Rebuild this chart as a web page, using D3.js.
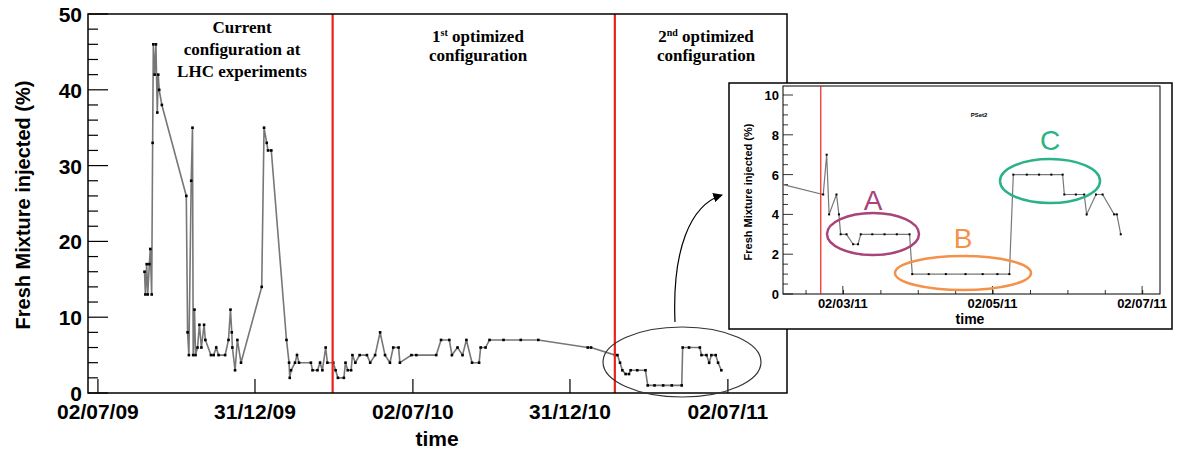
<!DOCTYPE html>
<html><head><meta charset="utf-8">
<script src="https://cdn.jsdelivr.net/npm/d3@7/dist/d3.min.js"></script>
<style>body{margin:0;background:#fff}</style></head>
<body><svg id="c" width="1182" height="452"></svg>
<script>
// Main series: days since 2009-07-02, value (%)
const mainDays = [54,55,56.5,57.7,59.6,60.7,62.3,63.4,64.2,65.7,67.2,68.8,69.9,71,74.1,102.4,103.9,105.4,108.1,109.6,110.4,111.9,113.1,115.4,117.6,119.9,123,124.5,131,134.1,137.1,139.8,147.4,151.3,153.6,155.1,155.8,158.9,161.6,165.8,189.8,192.5,195.6,197.1,200.9,218.5,221.5,222.3,223.8,228.4,230.7,233,246.8,248.7,254.4,257.4,260.1,263.9,265.9,272.7,275.4,278.1,285,286.9,289.5,293.4,294.9,298.3,303.3,311.7,315.5,321.2,327,332.7,338.4,342.2,348.4,349.9,363.3,369,392,397.6,407.2,410.2,416.7,422.5,427,433.5,441.7,443.5,449.2,453.8,470,490,510.3,567.6,571.4,599.3,602,605,607.7,611.5,615.4,617.3,625,634.5,637.1,645,655,665,676.5,677.6,685,697.5,699.4,705.2,708.3,710.9,715.9,718.6,722.4];
const mainVals = [16,13,17,13,17,19,13,33,46,42,46,37,42,40,38,26,8,5,28,35,5,11,5,6,9,6,9,7,5,5,6,5,5,7,11,8,6,3,7,4,14,35,33,32,32,7,4,2,3,4,5,4,4,3,3,4,3,6,4,4,3,2,2,4,3,3,5,4,5,5,4,5,8,5,4,6,6,4,5,5,5,7,7,5,6,5,7,4,4,6,6,7,7,7,7,6,6,5,5,4,3,2.5,2.5,3,3,3,1,1,1,1,1,6,6,6,5,5,4,5,5,4,3];
// Inset series: days since 2011-03-02
const insetDays = [-24.3,-8,-6.6,-5.6,-2.6,-1.6,-0.9,1.5,4.2,6.2,7.3,12,17,22,27.2,28.3,35,42,50,57,63,67.9,69.5,75,80,85,89.6,90.3,95,98.4,99.4,103.2,105.9,110.6,111.7,113.3];
const insetVals = [5.5,5,7,4,5,4,3,3,2.5,2.5,3,3,3,3,3,1,1,1,1,1,1,1,6,6,6,6,6,5,5,5,4,5,5,4,4,3];
const mainTicks = ["2009-07-02","2009-12-31","2010-07-02","2010-12-31","2011-07-02"];
const mainTickLabels = ["02/07/09","31/12/09","02/07/10","31/12/10","02/07/11"];
const insetTicks = ["2011-03-02","2011-05-02","2011-07-02"];
const insetTickLabels = ["02/03/11","02/05/11","02/07/11"];
const phaseChanges = ["2010-03-31","2011-02-21"];

const svg = d3.select("#c");
const P = s => d3.utcParse("%Y-%m-%d")(s);
const addDays = (base, d) => new Date(P(base).getTime() + d*86400000);

// ---------- main plot
const x = d3.scaleUtc().domain([addDays("2009-07-02",-11.5), addDays("2009-07-02",798.5)]).range([88,787]);
const y = d3.scaleLinear().domain([0,50]).range([393,14]);
const g = svg.append("g");
// minor y ticks
g.selectAll(".ym").data(d3.range(0,51,2)).join("line")
  .attr("x1",88).attr("x2",d=>d%10===0?108:98).attr("y1",d=>y(d)).attr("y2",d=>y(d))
  .attr("stroke","#000").attr("stroke-width",1.2);
g.selectAll(".yl").data(d3.range(0,51,10)).join("text")
  .attr("x",82).attr("y",d=>y(d)+8).attr("text-anchor","end")
  .attr("font-family","Liberation Sans, Arial").attr("font-weight","bold").attr("font-size",21).text(d=>d);
g.selectAll(".xt").data(mainTicks).join("line")
  .attr("x1",d=>x(P(d))).attr("x2",d=>x(P(d))).attr("y1",393).attr("y2",379)
  .attr("stroke","#000").attr("stroke-width",1.2);
g.selectAll(".xl").data(mainTickLabels).join("text")
  .attr("x",(d,i)=>x(P(mainTicks[i]))).attr("y",419).attr("text-anchor","middle")
  .attr("font-family","Liberation Sans, Arial").attr("font-weight","bold").attr("font-size",21).text(d=>d);
g.append("text").attr("x",437).attr("y",446).attr("text-anchor","middle")
  .attr("font-family","Liberation Sans, Arial").attr("font-weight","bold").attr("font-size",21).text("time");
g.append("text").attr("transform","translate(30,205) rotate(-90)").attr("text-anchor","middle")
  .attr("font-family","Liberation Sans, Arial").attr("font-weight","bold").attr("font-size",20).text("Fresh Mixture injected (%)");

const mainData = mainDays.map((d,i)=>({t:addDays("2009-07-02",d), v:mainVals[i]}));
g.append("path").datum(mainData).attr("fill","none").attr("stroke","#777").attr("stroke-width",1.6)
  .attr("d", d3.line().x(d=>x(d.t)).y(d=>y(d.v)));
g.selectAll(".pt").data(mainData).join("rect")
  .attr("x",d=>x(d.t)-1.3).attr("y",d=>y(d.v)-1.3).attr("width",2.6).attr("height",2.6).attr("fill","#000");
g.selectAll(".red").data(phaseChanges).join("line")
  .attr("x1",d=>x(P(d))).attr("x2",d=>x(P(d))).attr("y1",14).attr("y2",393)
  .attr("stroke","#e8221b").attr("stroke-width",2.2);
g.append("rect").attr("x",88).attr("y",14).attr("width",699).attr("height",379)
  .attr("fill","none").attr("stroke","#000").attr("stroke-width",1.5);

const serif = "Liberation Serif, Times New Roman";
function label(lines, cx, y0, dy){
  lines.forEach((l,i)=>{
    const t = g.append("text").attr("x",cx).attr("y",y0+i*dy).attr("text-anchor","middle")
      .attr("font-family",serif).attr("font-weight","bold").attr("font-size",17);
    if (Array.isArray(l)) { t.append("tspan").text(l[0]); t.append("tspan").attr("font-size",10).attr("dy",-6).text(l[1]); t.append("tspan").attr("dy",6).text(l[2]); }
    else t.text(l);
  });
}
label(["Current","configuration at","LHC experiments"], 242, 33, 22);
label([["1","st"," optimized"],"configuration"], 478, 42, 19);
label([["2","nd"," optimized"],"configuration"], 706, 42, 19);

// big ellipse + arrow
g.append("ellipse").attr("cx",682).attr("cy",362).attr("rx",79).attr("ry",35).attr("fill","none").attr("stroke","#333").attr("stroke-width",1.2);
svg.append("defs").append("marker").attr("id","ah").attr("viewBox","0 0 10 10").attr("refX",9).attr("refY",5)
  .attr("markerWidth",8).attr("markerHeight",8).attr("orient","auto")
  .append("path").attr("d","M0,0L10,5L0,10z").attr("fill","#000");
g.append("path").attr("d","M675,322 C672,250 690,205 722,195").attr("fill","none").attr("stroke","#000")
  .attr("stroke-width",1.2).attr("marker-end","url(#ah)");

// ---------- inset
const ig = svg.append("g");
ig.append("rect").attr("x",729).attr("y",83).attr("width",443).attr("height",246).attr("fill","#fff").attr("stroke","#000").attr("stroke-width",1.5);
const ix = d3.scaleUtc().domain([addDays("2011-03-02",-24.4), addDays("2011-03-02",129.3)]).range([783,1160]);
const iy = d3.scaleLinear().domain([0,10]).range([294,95]);
ig.append("rect").attr("x",783).attr("y",86).attr("width",377).attr("height",208).attr("fill","none").attr("stroke","#000").attr("stroke-width",1);
ig.selectAll(".iym").data(d3.range(0,10.1,0.5)).join("line")
  .attr("x1",783).attr("x2",(d)=>d%2===0?793:788).attr("y1",d=>iy(d)).attr("y2",d=>iy(d)).attr("stroke","#000").attr("stroke-width",0.8);
ig.selectAll(".iyl").data(d3.range(0,11,2)).join("text")
  .attr("x",779).attr("y",d=>iy(d)+5).attr("text-anchor","end")
  .attr("font-family","Liberation Sans, Arial").attr("font-weight","bold").attr("font-size",13).text(d=>d);
const minorX = d3.range(-15,130,15.25);
ig.selectAll(".ixm").data(minorX).join("line")
  .attr("x1",d=>ix(addDays("2011-03-02",d))).attr("x2",d=>ix(addDays("2011-03-02",d))).attr("y1",294).attr("y2",290).attr("stroke","#000").attr("stroke-width",0.8);
ig.selectAll(".ixt").data(insetTicks).join("line")
  .attr("x1",d=>ix(P(d))).attr("x2",d=>ix(P(d))).attr("y1",294).attr("y2",286).attr("stroke","#000").attr("stroke-width",0.8);
ig.selectAll(".ixl").data(insetTickLabels).join("text")
  .attr("x",(d,i)=>ix(P(insetTicks[i]))).attr("y",308).attr("text-anchor","middle")
  .attr("font-family","Liberation Sans, Arial").attr("font-weight","bold").attr("font-size",13).text(d=>d);
ig.append("text").attr("x",970).attr("y",324).attr("text-anchor","middle")
  .attr("font-family","Liberation Sans, Arial").attr("font-weight","bold").attr("font-size",14).text("time");
ig.append("text").attr("transform","translate(752,192) rotate(-90)").attr("text-anchor","middle")
  .attr("font-family","Liberation Sans, Arial").attr("font-weight","bold").attr("font-size",11).text("Fresh Mixture injected (%)");
ig.append("text").attr("x",979).attr("y",117).attr("text-anchor","middle")
  .attr("font-family","Liberation Sans, Arial").attr("font-weight","bold").attr("font-size",6).text("PSet2");
const insetData = insetDays.map((d,i)=>({t:addDays("2011-03-02",d), v:insetVals[i]}));
ig.append("path").datum(insetData).attr("fill","none").attr("stroke","#777").attr("stroke-width",1.2)
  .attr("d", d3.line().x(d=>ix(d.t)).y(d=>iy(d.v)));
ig.selectAll(".ipt").data(insetData.slice(1)).join("rect")
  .attr("x",d=>ix(d.t)-1).attr("y",d=>iy(d.v)-1).attr("width",2).attr("height",2).attr("fill","#000");
ig.append("line").attr("x1",ix(P(phaseChanges[1]))).attr("x2",ix(P(phaseChanges[1]))).attr("y1",86).attr("y2",294)
  .attr("stroke","#e8221b").attr("stroke-width",1.2);
const ell = [
  {cx:873,cy:234,rx:46,ry:21,c:"#a8447a",l:"A",ly:210},
  {cx:963,cy:273,rx:68,ry:17,c:"#f4914a",l:"B",ly:248},
  {cx:1050,cy:181,rx:50,ry:22,c:"#2bb28a",l:"C",ly:150}];
ig.selectAll(".el").data(ell).join("ellipse").attr("cx",d=>d.cx).attr("cy",d=>d.cy).attr("rx",d=>d.rx).attr("ry",d=>d.ry)
  .attr("fill","none").attr("stroke",d=>d.c).attr("stroke-width",2.5);
ig.selectAll(".elt").data(ell).join("text").attr("x",d=>d.cx).attr("y",d=>d.ly).attr("text-anchor","middle")
  .attr("font-family","Liberation Sans, Arial").attr("font-size",28).attr("fill",d=>d.c).text(d=>d.l);
</script></body></html>
